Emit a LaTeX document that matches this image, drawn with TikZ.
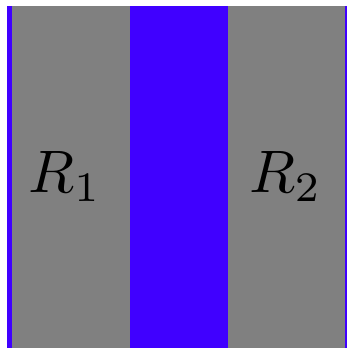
\documentclass[tikz,border=0pt]{standalone}
\usepackage{tikz}
\def\largeur{347}
\def\hauteur{348}
\definecolor{bande}{RGB}{64,0,255}
\definecolor{region}{RGB}{128,128,128}

\begin{document}
\begin{tikzpicture}[x=1pt, y=1pt]
\useasboundingbox (0,0) rectangle (\largeur,\hauteur);
%\draw[step=10pt, line width=0.1pt, black!20!white] (0,0) grid (\largeur,\hauteur);
\fill[bande] (7,0) rectangle (\largeur,342);
\fill[region] (12,0) rectangle (130,342);
\fill[region] (228,0) rectangle (345,342);
\node[anchor=base, scale=6, inner sep=0pt] (r1) at (65,155) {$R_1$};
\node[anchor=base, scale=6, inner sep=0pt] (r2) at (285.5,155) {$R_2$};
\end{tikzpicture}
\end{document}
